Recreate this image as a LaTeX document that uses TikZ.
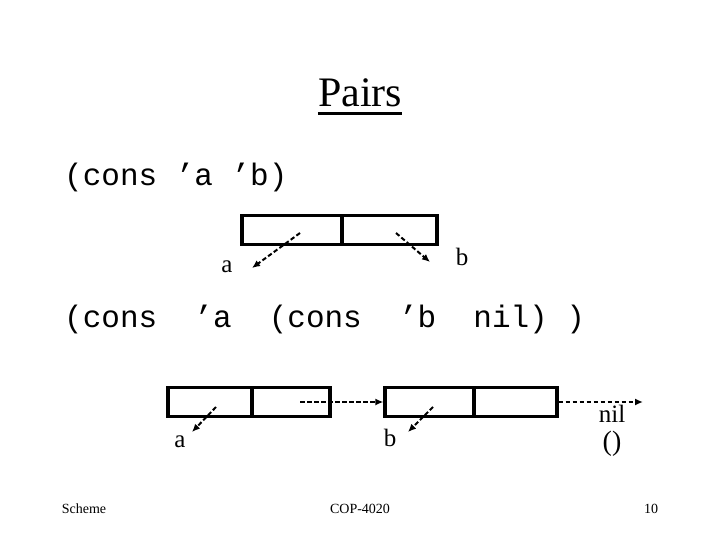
\documentclass[tikz,border=0pt]{standalone}
\usepackage{fontspec}
\setmainfont{Liberation Serif}
\setmonofont{Liberation Mono}
\usetikzlibrary{arrows.meta,positioning}

\begin{document}
\begin{tikzpicture}[
  x=1pt, y=-1pt,
  cell/.style={draw, line width=3.2pt, minimum height=29pt, inner sep=0pt},
  ptr/.style={-{Latex[length=8pt,width=7pt]}, line width=2pt, dash pattern=on 4.5pt off 2.5pt},
  code/.style={font=\ttfamily\fontsize{31}{34}\selectfont, anchor=base west, inner sep=0pt},
  lbl/.style={font=\fontsize{25}{27}\selectfont, anchor=base, inner sep=0pt},
  foot/.style={font=\fontsize{14}{16}\selectfont, anchor=base, inner sep=0pt}
]
  \useasboundingbox (0,0) rectangle (720,540);
  % title and first expression
  \node[font=\fontsize{42}{46}\selectfont, anchor=base, inner sep=0pt] (title) at (360,107) {Pairs};
  \draw[line width=3pt] ([yshift=-7pt]title.base west) -- ([yshift=-7pt]title.base east);
  \node[code] (expr1) at (64,186) {(cons ’a ’b)};
  % cons cell for (cons 'a 'b)
  \node[cell, minimum width=100pt] (topcar) at (292,230) {};
  \node[cell, minimum width=95pt] (topcdr) at (389.5,230) {};
  \node[lbl] (la) at (227,272) {a};
  \node[lbl] (lb) at (462,265) {b};
  \draw[ptr] ([shift={(8,3)}]topcar.center) -- ([shift={(25,-4)}]la.base);
  \draw[ptr] ([shift={(6.5,3)}]topcdr.center) -- ([shift={(-32,-3)}]lb.base);
  % second expression
  \node[code] (expr2) at (64,327) {(cons\ \ ’a\ \ (cons\ \ ’b\ \ nil)\ )};
  % list of two cells
  \node[cell, minimum width=84pt] (acar) at (210,402) {};
  \node[cell, minimum width=78pt] (acdr) at (291,402) {};
  \node[cell, minimum width=89pt] (bcar) at (429.5,402) {};
  \node[cell, minimum width=83pt] (bcdr) at (515.5,402) {};
  \coordinate (nilend) at (643,402);
  \node[lbl] (ba) at (180,447) {a};
  \node[lbl] (bb) at (390,446) {b};
  \node[lbl] (nil) at (612,422) {nil};
  \node[font=\fontsize{28}{30}\selectfont, inner sep=0pt] (empty) at (612,444) {()};
  \draw[ptr] ([shift={(6,5)}]acar.center) -- ([shift={(12,-15)}]ba.base);
  \draw[ptr] ([xshift=9pt]acdr.center) -- (bcar.west);
  \draw[ptr] ([shift={(3.5,5)}]bcar.center) -- ([shift={(18,-14)}]bb.base);
  \draw[ptr] (bcdr.east) -- (nilend);
  % footer
  \node[foot] (fleft) at (84,513) {Scheme};
  \node[foot] (fmid) at (360,513) {COP-4020};
  \node[foot] (fright) at (651,513) {10};
\end{tikzpicture}
\end{document}
